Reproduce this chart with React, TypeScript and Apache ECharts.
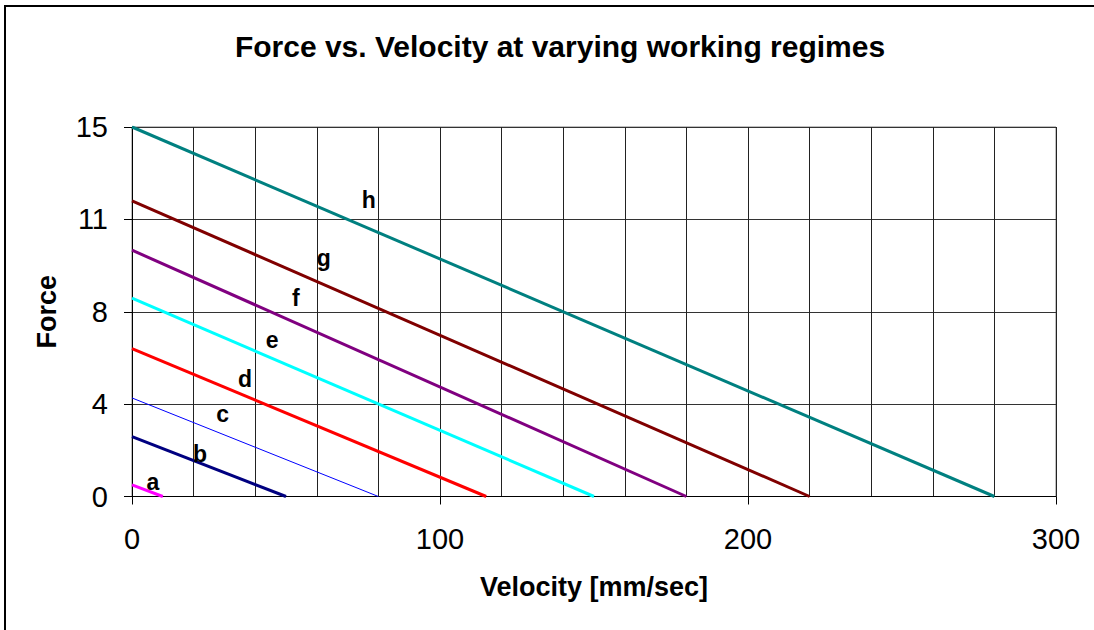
import React, { useEffect, useRef } from "react";
import * as echarts from "echarts";

const regimeNames = ["a", "b", "c", "d", "e", "f", "g", "h"];
const forceAtZero = [0.47, 2.43, 4.0, 6.0, 8.05, 10.0, 12.0, 15.0];
const velocityAtZeroForce = [10, 50, 80, 115, 150, 180, 220, 280];
const lineColors = ["#FF00FF", "#000080", "#0000FF", "#FF0000", "#00FFFF", "#800080", "#800000", "#008080"];
const lineWidths = [3, 3, 1, 3, 3, 3, 3, 3];
const labelVelocity = [6.8, 22.1, 29.4, 36.7, 45.5, 53.2, 62.3, 76.9];
const labelForce = [0.59, 1.73, 3.35, 4.77, 6.35, 8.06, 9.68, 12.04];
const yTickLabels = ["0", "4", "8", "11", "15"];
const xTickLabels = ["0", "100", "200", "300"];

const FONT = "'Liberation Sans', Arial, Helvetica, sans-serif";

export default function App() {
  const ref = useRef<HTMLDivElement>(null);
  useEffect(() => {
    document.body.style.margin = "0";
    const chart = echarts.init(ref.current!, null, { renderer: "svg" });
    const lineSeries = regimeNames.map((n, i) => ({
      name: n,
      type: "line",
      data: [
        [0, forceAtZero[i]],
        [velocityAtZeroForce[i], 0],
      ],
      symbol: "none",
      lineStyle: { color: lineColors[i], width: lineWidths[i] },
      z: 5,
    }));
    chart.setOption({
      animation: false,
      backgroundColor: "#ffffff",
      title: {
        text: "Force vs. Velocity at varying working regimes",
        left: 555,
        textAlign: "center",
        top: 26,
        textStyle: { fontFamily: FONT, fontSize: 30, fontWeight: "bold", color: "#000" },
      },
      graphic: [
        {
          type: "rect",
          shape: { x: 5, y: 6, width: 1200, height: 700 },
          style: { fill: "none", stroke: "#000", lineWidth: 2 },
          silent: true,
        },
      ],
      grid: {
        left: 132,
        top: 127,
        right: 38,
        bottom: 133.5,
        show: true,
        borderColor: "#808080",
        borderWidth: 1,
      },
      xAxis: {
        type: "value",
        min: 0,
        max: 300,
        interval: 100,
        name: "Velocity [mm/sec]",
        nameLocation: "middle",
        nameGap: 77,
        nameTextStyle: { fontFamily: FONT, fontSize: 27, fontWeight: "bold", color: "#000" },
        axisLine: { show: true, lineStyle: { color: "#000", width: 1 } },
        axisTick: { show: true, inside: false, length: 8, lineStyle: { color: "#000" } },
        axisLabel: {
          fontFamily: FONT,
          fontSize: 29,
          color: "#000",
          margin: 28,
          formatter: (_v: number, idx: number) => xTickLabels[idx] ?? "",
        },
        splitLine: { show: true, lineStyle: { color: "#222", width: 1 } },
        minorTick: { show: false, splitNumber: 5 },
        minorSplitLine: { show: true, lineStyle: { color: "#222", width: 1 } },
      },
      yAxis: {
        type: "value",
        min: 0,
        max: 15,
        interval: 3.75,
        name: "Force",
        nameLocation: "middle",
        nameGap: 72,
        nameRotate: 90,
        nameTextStyle: { fontFamily: FONT, fontSize: 27, fontWeight: "bold", color: "#000" },
        axisLine: { show: true, lineStyle: { color: "#000", width: 1 } },
        axisTick: { show: true, inside: false, length: 8, lineStyle: { color: "#000" } },
        axisLabel: {
          fontFamily: FONT,
          fontSize: 29,
          color: "#000",
          margin: 24,
          formatter: (_v: number, idx: number) => yTickLabels[idx] ?? "",
        },
        splitLine: { show: true, lineStyle: { color: "#333", width: 1 } },
      },
      series: [
        ...lineSeries,
        {
          type: "scatter",
          symbolSize: 0,
          silent: true,
          z: 6,
          itemStyle: { color: "rgba(0,0,0,0)", opacity: 1 },
          data: regimeNames.map((n, i) => ({ name: n, value: [labelVelocity[i], labelForce[i]] })),
          label: {
            show: true,
            position: "inside",
            formatter: (p: any) => p.name,
            fontFamily: FONT,
            fontSize: 23,
            fontWeight: "bold",
            color: "#000",
            opacity: 1,
            textBorderWidth: 0,
            textBorderColor: "transparent",
          },
        },
      ],
    });
    return () => chart.dispose();
  }, []);
  return <div ref={ref} style={{ width: 1094, height: 630 }} />;
}
